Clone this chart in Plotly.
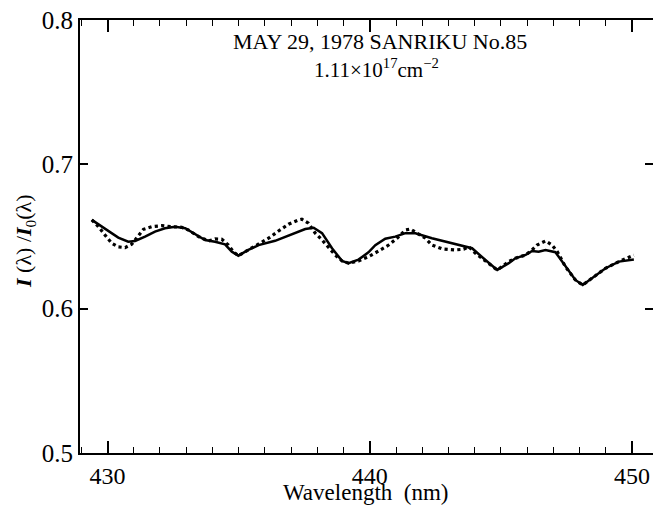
import plotly.graph_objects as go

# Observed (dotted) series
obs_x = [429.40, 429.65, 429.90, 430.16, 430.41, 430.67, 430.92, 431.11, 431.37, 431.69,
         432.07, 432.45, 432.83, 433.08, 433.47, 433.85, 434.10, 434.36, 434.61, 434.80,
         434.99, 435.37, 435.76, 436.14, 436.52, 436.90, 437.28, 437.41, 437.66, 437.92,
         438.18, 438.40, 438.68, 438.94, 439.19, 439.57, 439.95, 440.34, 440.72, 441.04,
         441.36, 441.55, 441.74, 442.12, 442.37, 442.76, 443.26, 443.58, 443.77, 444.03,
         444.28, 444.53, 444.86, 445.30, 445.55, 445.94, 446.19, 446.38, 446.70, 446.95,
         447.15, 447.46, 447.84, 448.12, 448.48, 448.99, 449.50, 450.07]
obs_y = [0.6615, 0.6568, 0.6511, 0.6453, 0.6428, 0.6423, 0.6446, 0.6488, 0.6550, 0.6568,
         0.6575, 0.6568, 0.6564, 0.6545, 0.6499, 0.6469, 0.6483, 0.6481, 0.6440, 0.6395,
         0.6367, 0.6407, 0.6446, 0.6488, 0.6538, 0.6585, 0.6615, 0.6620, 0.6592, 0.6523,
         0.6476, 0.6430, 0.6372, 0.6331, 0.6315, 0.6330, 0.6360, 0.6400, 0.6441, 0.6488,
         0.6545, 0.6552, 0.6529, 0.6488, 0.6441, 0.6414, 0.6407, 0.6412, 0.6430, 0.6384,
         0.6349, 0.6315, 0.6268, 0.6326, 0.6349, 0.6372, 0.6407, 0.6441, 0.6469, 0.6441,
         0.6395, 0.6291, 0.6199, 0.6164, 0.6211, 0.6280, 0.6326, 0.6370]

# Computed (solid) series
calc_x = [429.40, 429.90, 430.41, 430.79, 431.05, 431.43, 431.81, 432.19, 432.58, 432.96,
          433.34, 433.72, 434.10, 434.48, 434.74, 434.99, 435.37, 435.76, 436.39, 437.03,
          437.54, 437.86, 438.18, 438.56, 438.94, 439.19, 439.57, 439.95, 440.21, 440.59,
          440.97, 441.36, 441.74, 442.37, 443.00, 443.65, 443.90, 444.41, 444.86, 445.30,
          445.55, 445.94, 446.19, 446.44, 446.70, 447.08, 447.46, 447.84, 448.12, 448.48,
          448.99, 449.50, 450.07]
calc_y = [0.6615, 0.6557, 0.6492, 0.6464, 0.6469, 0.6499, 0.6534, 0.6557, 0.6568, 0.6557,
          0.6516, 0.6476, 0.6464, 0.6446, 0.6395, 0.6367, 0.6407, 0.6440, 0.6470, 0.6516,
          0.6552, 0.6561, 0.6523, 0.6419, 0.6331, 0.6315, 0.6340, 0.6390, 0.6440, 0.6485,
          0.6499, 0.6523, 0.6523, 0.6488, 0.6460, 0.6434, 0.6419, 0.6337, 0.6268, 0.6315,
          0.6349, 0.6372, 0.6400, 0.6395, 0.6407, 0.6391, 0.6291, 0.6199, 0.6164, 0.6211,
          0.6280, 0.6326, 0.6340]

title_line1 = "MAY 29, 1978 SANRIKU No.85"
title_line2 = "1.11×10<sup>17</sup>cm<sup>−2</sup>"
x_title = "Wavelength  (nm)"
y_title = "<b><i>I</i></b> (λ) /<b><i>I</i></b><sub>0</sub>(λ)"

X_RANGE = [428.95, 450.80]
Y_RANGE = [0.5, 0.8]
W, H = 653, 509
SERIF = "Liberation Serif"

fig = go.Figure()
fig.add_trace(go.Scatter(x=calc_x, y=calc_y, mode="lines",
                         line=dict(color="black", width=2.5), showlegend=False))
fig.add_trace(go.Scatter(x=obs_x, y=obs_y, mode="lines",
                         line=dict(color="black", width=3.2, dash="dot"), showlegend=False))

# with zero margins, paper coordinates equal fractions of the whole picture
def ann(text, px, py, size, angle=0):
    fig.add_annotation(x=px / W, y=1 - py / H, xref="paper", yref="paper",
                       text=text, showarrow=False, textangle=angle,
                       font=dict(family=SERIF, size=size, color="black"),
                       xanchor="center", yanchor="middle")

ann(title_line1, 380, 42, 22)
ann(title_line2, 376, 68, 21)
ann(x_title, 365, 492, 23)
ann(y_title, 25, 241, 22, angle=-90)

fig.update_layout(
    xaxis=dict(domain=[80 / W, 1.0], anchor="y", range=X_RANGE, tick0=430, dtick=10,
               ticks="inside", ticklen=12, tickwidth=2, tickcolor="black",
               minor=dict(tick0=430, dtick=1, ticks="inside",
                          ticklen=6, tickwidth=1, tickcolor="black"),
               showline=True, linecolor="black", linewidth=2, mirror="ticks",
               showgrid=False, zeroline=False, automargin=False,
               tickfont=dict(family=SERIF, size=24, color="black")),
    yaxis=dict(domain=[1 - 453 / H, 1 - 20 / H], anchor="x", range=Y_RANGE, tick0=0.5, dtick=0.1,
               ticks="inside", ticklen=8, tickwidth=2, tickcolor="black",
               showline=True, linecolor="black", linewidth=2, mirror="ticks",
               showgrid=False, zeroline=False, automargin=False,
               tickfont=dict(family=SERIF, size=25, color="black")),
    width=W, height=H, margin=dict(l=0, r=0, t=0, b=0),
    plot_bgcolor="white", paper_bgcolor="white")

fig.write_html("out.html")
